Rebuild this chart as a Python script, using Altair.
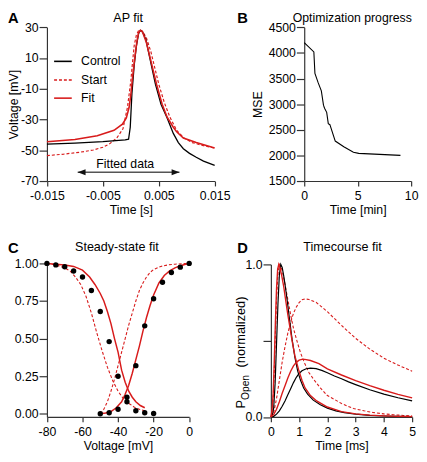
import altair as alt
import pandas as pd

FONT = "Liberation Sans"
RED = "#d81b1b"
AX = "#333333"

# ---------------- Panel A: AP fit ----------------
ctrl_t = [-0.015, -0.010, -0.005, -0.001, -0.0004, -0.0001, 0.0002, 0.0006, 0.0010, 0.0014, 0.0017,
          0.0021, 0.0027, 0.0034, 0.0044, 0.0054, 0.0065, 0.0076, 0.0085, 0.0094, 0.0105, 0.0117, 0.013, 0.015]
ctrl_v = [-46.0, -45.3, -44.4, -43.3, -42.8, -35, -13, 5, 18, 26, 28,
          27, 22, 10, -7, -20, -29, -39, -45, -49, -52, -54.5, -57, -59.8]
fit_t = [-0.015, -0.010, -0.006, -0.003, -0.0015, -0.0008, -0.0003, 0.0000, 0.0003, 0.0007, 0.0011,
         0.0014, 0.0017, 0.0021, 0.0028, 0.0036, 0.0046, 0.0056, 0.0065, 0.0076, 0.0082, 0.0094, 0.0117, 0.015]
fit_v = [-44.5, -43, -40.5, -37, -33, -29, -22, -14, -3, 10, 21,
         26.5, 28, 27, 20, 8, -7, -20, -28.5, -35, -38, -42, -45, -48.5]
start_t = [-0.015, -0.012, -0.009, -0.0067, -0.005, -0.0038, -0.0025, -0.0014, -0.0006, 0.0000, 0.0003,
           0.0006, 0.0010, 0.0014, 0.0017, 0.0021, 0.0028, 0.0036, 0.0044, 0.005, 0.006, 0.0070, 0.0082,
           0.0095, 0.011, 0.013, 0.015]
start_v = [-53.5, -52.5, -51.2, -49.8, -48, -45.8, -42, -36, -22, -5, 7,
           18, 25, 28, 28.3, 27.5, 23, 14, 2, -7, -19, -28.5, -37,
           -42, -45, -47, -48.5]
arrow_t = [-0.0095, 0.0087]
arrow_v = [-64.3, -64.3]
legend_names = ["Control", "Start", "Fit"]

# ---------------- Panel B: Optimization progress ----------------
opt_time = [0, 0.9, 1.0, 1.3, 1.6, 1.8, 1.9, 2.1, 2.25, 2.4, 2.9, 3.7, 4.6, 5.1, 9.0]
opt_mse = [4200, 4020, 3600, 3420, 3260, 2980, 2920, 2840, 2620, 2600, 2280, 2170, 2060, 2040, 2000]

# ---------------- Panel C: Steady-state fit ----------------
inact_dot_v = [-80, -75, -70, -65, -60, -55, -50, -45, -40, -35, -30, -25, -20]
inact_dot_y = [1.0, 0.99, 0.978, 0.95, 0.91, 0.82, 0.68, 0.48, 0.25, 0.11, 0.02, 0.007, 0.002]
act_dot_v = [-50, -45, -40, -35, -30, -25, -20, -15, -10, -5, 0]
act_dot_y = [0.0, 0.007, 0.03, 0.08, 0.32, 0.585, 0.765, 0.875, 0.94, 0.975, 1.0]
inact_fit_v = [-80, -70, -65, -60, -56, -53, -50, -48, -46, -44, -42, -40, -38, -36, -34, -32, -30, -27.5, -25]
inact_fit_y = [1.0, 0.99, 0.98, 0.955, 0.91, 0.86, 0.8, 0.75, 0.68, 0.6, 0.5, 0.41, 0.29, 0.21, 0.15, 0.11, 0.08, 0.055, 0.04]
inact_start_v = [-80, -75, -70, -67, -64, -61, -58, -55, -52, -49, -46, -43, -40, -37, -34, -31, -28, -25]
inact_start_y = [1.0, 0.99, 0.97, 0.95, 0.91, 0.86, 0.78, 0.67, 0.54, 0.42, 0.31, 0.22, 0.15, 0.10, 0.07, 0.045, 0.03, 0.02]
act_fit_v = [-50, -47, -44, -41, -38, -36, -34, -32, -30, -28, -26, -24, -22, -20, -17, -14, -11, -8, -5, -2, 0]
act_fit_y = [0.0, 0.005, 0.015, 0.04, 0.08, 0.13, 0.19, 0.27, 0.36, 0.45, 0.55, 0.64, 0.72, 0.79, 0.87, 0.92, 0.95, 0.97, 0.985, 0.995, 1.0]
act_start_v = [-50, -48, -46, -44, -42, -40, -38, -36, -34, -32, -30, -28, -26, -24, -22, -20, -16, -12, -8, -4, 0]
act_start_y = [0.0, 0.03, 0.08, 0.15, 0.23, 0.32, 0.41, 0.5, 0.59, 0.67, 0.75, 0.82, 0.87, 0.91, 0.94, 0.96, 0.98, 0.99, 0.995, 0.998, 1.0]

# ---------------- Panel D: Timecourse fit ----------------
fast_ctrl_t = [0, 0.05, 0.1, 0.15, 0.2, 0.25, 0.3, 0.35, 0.4, 0.45, 0.5, 0.58, 0.66, 0.75, 0.85, 0.95, 1.05,
               1.16, 1.3, 1.5, 1.75, 2.0, 2.3, 2.6, 3.0, 3.5, 4.0, 4.5, 5.0]
fast_ctrl_p = [0, 0.01, 0.06, 0.22, 0.48, 0.74, 0.93, 1.0, 0.98, 0.93, 0.87, 0.76, 0.64, 0.51, 0.39, 0.3, 0.24,
               0.19, 0.15, 0.11, 0.08, 0.058, 0.04, 0.028, 0.018, 0.01, 0.006, 0.004, 0.002]
fast_fit_t = [0, 0.04, 0.08, 0.12, 0.16, 0.2, 0.24, 0.28, 0.32, 0.38, 0.45, 0.52, 0.6, 0.68, 0.75, 0.85, 0.98,
              1.1, 1.21, 1.4, 1.62, 2.0, 2.5, 3.0, 3.5, 4.0, 4.5, 5.0]
fast_fit_p = [0, 0.04, 0.15, 0.36, 0.62, 0.84, 0.97, 1.0, 0.98, 0.93, 0.86, 0.77, 0.67, 0.58, 0.5, 0.4, 0.31,
              0.24, 0.19, 0.14, 0.105, 0.065, 0.035, 0.02, 0.012, 0.007, 0.004, 0.002]
fast_start_t = [0, 0.04, 0.08, 0.12, 0.16, 0.2, 0.25, 0.3, 0.34, 0.4, 0.5, 0.6, 0.7, 0.8, 0.92, 1.05, 1.2, 1.35,
                1.5, 1.75, 2.0, 2.22, 2.5, 2.92, 3.3, 3.6, 4.0, 4.3, 4.7, 5.0]
fast_start_p = [0, 0.03, 0.12, 0.3, 0.55, 0.77, 0.94, 1.0, 0.99, 0.96, 0.87, 0.77, 0.67, 0.58, 0.5, 0.42, 0.35, 0.29,
                0.25, 0.19, 0.14, 0.118, 0.088, 0.055, 0.04, 0.03, 0.02, 0.015, 0.01, 0.007]
slow_ctrl_t = [0, 0.1, 0.2, 0.3, 0.4, 0.5, 0.6, 0.7, 0.8, 0.9, 1.0, 1.1, 1.25, 1.4, 1.6, 1.8, 2.0, 2.25, 2.5,
               2.75, 3.0, 3.5, 4.0, 4.5, 5.0]
slow_ctrl_p = [0, 0.004, 0.018, 0.04, 0.07, 0.105, 0.145, 0.185, 0.225, 0.26, 0.285, 0.303, 0.316, 0.32, 0.317,
               0.305, 0.29, 0.268, 0.25, 0.23, 0.212, 0.178, 0.15, 0.126, 0.105]
slow_fit_t = [0, 0.1, 0.2, 0.3, 0.4, 0.5, 0.6, 0.7, 0.8, 0.9, 1.0, 1.1, 1.2, 1.4, 1.7, 2.0, 2.5, 3.0, 3.5, 4.0, 4.5, 5.0]
slow_fit_p = [0, 0.015, 0.05, 0.1, 0.155, 0.205, 0.255, 0.3, 0.335, 0.358, 0.372, 0.377, 0.377, 0.37, 0.35,
              0.315, 0.275, 0.238, 0.205, 0.175, 0.148, 0.125]
slow_start_t = [0, 0.1, 0.2, 0.3, 0.4, 0.5, 0.6, 0.7, 0.8, 0.9, 1.0, 1.1, 1.2, 1.35, 1.6, 2.0, 2.5, 3.0, 3.5,
                4.0, 4.5, 5.0]
slow_start_p = [0, 0.03, 0.12, 0.24, 0.36, 0.46, 0.55, 0.62, 0.68, 0.72, 0.75, 0.768, 0.774, 0.77, 0.752, 0.69,
                0.6, 0.515, 0.445, 0.385, 0.34, 0.3]

TITLES = ["AP fit", "Optimization progress", "Steady-state fit", "Timecourse fit"]
LETTERS = ["A", "B", "C", "D"]
D_YLABEL = ["P", "Open", "(normalized)"]

# ---------------- layout (pixels in the plot area) ----------------
W, H = 419, 452
NEG = "(datum.value < 0 ? '-' : '') + format(abs(datum.value), '{f}')"


def xaxis(values, title, ypos, fmt, tpad=2):
    return alt.Axis(orient="bottom", offset=ypos - H, values=values, title=title, tickSize=5,
                    labelPadding=4, titlePadding=tpad, labelExpr=NEG.format(f=fmt))


def yaxis(values, title, xpos, expr, tpad=0):
    return alt.Axis(orient="left", offset=-xpos, values=values, tickSize=8, labelPadding=1,
                    titlePadding=tpad, labelExpr=expr, title=title)


def panel_enc(xdom, xrng, ydom, yrng, xax, yax):
    return dict(
        x=alt.X("x:Q", scale=alt.Scale(domain=xdom, range=xrng, nice=False, zero=False), axis=xax),
        y=alt.Y("y:Q", scale=alt.Scale(domain=ydom, range=yrng, nice=False, zero=False), axis=yax),
    )


def df(xs, ys):
    return pd.DataFrame({"x": xs, "y": ys})


def line(xs, ys, enc, color, width, dash=None):
    kw = dict(color=color, strokeWidth=width, interpolate="linear")
    if dash:
        kw["strokeDash"] = dash
    return alt.Chart(df(xs, ys)).mark_line(**kw).encode(**enc)


ONE = alt.Data(values=[{}])


def text(t, x, y, size, weight="normal", align="center", angle=0, baseline="alphabetic"):
    return alt.Chart(ONE).mark_text(text=t, font=FONT, fontSize=size, fontWeight=weight, align=align,
                                    baseline=baseline, angle=angle, color="#000").encode(
        x=alt.value(x), y=alt.value(y))


def hrule(x1, x2, y, color, width, dash=None):
    kw = dict(color=color, strokeWidth=width)
    if dash:
        kw["strokeDash"] = dash
    return alt.Chart(ONE).mark_rule(**kw).encode(x=alt.value(x1), x2=alt.value(x2), y=alt.value(y))


# ---- Panel A ----
encA = panel_enc([-0.015, 0.015], [39.7, 210.7], [-70, 30], [172, 15.3],
                 xaxis([-0.015, -0.005, 0.005, 0.015], "Time [s]", 172, ".3f"),
                 yaxis([-70, -50, -30, -10, 10, 30], "Voltage [mV]", 39.7, NEG.format(f="d")))
LEFT_HEAD = "M0,0 L2,-0.75 L2,0.75 Z"
RIGHT_HEAD = "M0,0 L-2,-0.75 L-2,0.75 Z"
panelA = alt.layer(
    line(arrow_t, arrow_v, encA, "#555555", 1.5),
    alt.Chart(df(arrow_t[:1], arrow_v[:1])).mark_point(shape=LEFT_HEAD, filled=True, size=64, color="#111",
                                                       opacity=1, strokeWidth=0).encode(**encA),
    alt.Chart(df(arrow_t[1:], arrow_v[1:])).mark_point(shape=RIGHT_HEAD, filled=True, size=64, color="#111",
                                                       opacity=1, strokeWidth=0).encode(**encA),
    alt.Chart(df([-0.001], [-61.4])).mark_text(text="Fitted data", font=FONT, fontSize=12.5,
                                                baseline="alphabetic", color="#000").encode(**encA),
    line(start_t, start_v, encA, RED, 1.2, [3, 2]),
    line(ctrl_t, ctrl_v, encA, "#000000", 1.3),
    line(fit_t, fit_v, encA, RED, 1.6),
)
legendA = alt.layer(
    hrule(47, 65, 50, "#000000", 1.6),
    hrule(47, 65, 69, RED, 1.3, [3, 2]),
    hrule(47, 65, 87.5, RED, 1.6),
    text(legend_names[0], 74.5, 50, 12.5, align="left", baseline="middle"),
    text(legend_names[1], 74.5, 69, 12.5, align="left", baseline="middle"),
    text(legend_names[2], 74.5, 87.5, 12.5, align="left", baseline="middle"),
)

# ---- Panel B ----
encB = panel_enc([0, 10], [302, 411], [1500, 4500], [172, 15.3],
                 xaxis([0, 5, 10], "Time [min]", 172, "d"),
                 yaxis(list(range(1500, 4501, 500)), "MSE", 302, "format(datum.value, 'd')", tpad=4))
panelB = alt.layer(line(opt_time, opt_mse, encB, "#000000", 1.1))

# ---- Panel C ----
encC = panel_enc([-80, 0], [39.7, 184.7], [-0.021, 1.0], [412.5, 256],
                 xaxis([-80, -60, -40, -20, 0], "Voltage [mV]", 412.5, "d"),
                 yaxis([0, 0.25, 0.5, 0.75, 1.0], None, 39.7, "format(datum.value, '.2f')"))
panelC = alt.layer(
    line(inact_start_v, inact_start_y, encC, RED, 1.1, [3, 2]),
    line(act_start_v, act_start_y, encC, RED, 1.1, [3, 2]),
    line(inact_fit_v, inact_fit_y, encC, RED, 1.5),
    line(act_fit_v, act_fit_y, encC, RED, 1.5),
    alt.Chart(df(inact_dot_v, inact_dot_y)).mark_circle(size=30, color="#000", opacity=1).encode(**encC),
    alt.Chart(df(act_dot_v, act_dot_y)).mark_circle(size=30, color="#000", opacity=1).encode(**encC),
)

# ---- Panel D ----
encD = panel_enc([0, 5], [268, 412], [0, 1.0], [412.5, 257],
                 xaxis([0, 1, 2, 3, 4, 5], "Time [ms]", 412.5, "d"),
                 yaxis([0, 0.5, 1.0], None, 268, "datum.value == 0.5 ? '' : format(datum.value, '.1f')"))
panelD = alt.layer(
    line(slow_start_t, slow_start_p, encD, RED, 1.1, [3, 2]),
    line(fast_start_t, fast_start_p, encD, RED, 1.1, [3, 2]),
    line(slow_ctrl_t, slow_ctrl_p, encD, "#000000", 1.2),
    line(fast_ctrl_t, fast_ctrl_p, encD, "#000000", 1.2),
    line(slow_fit_t, slow_fit_p, encD, RED, 1.4),
    line(fast_fit_t, fast_fit_p, encD, RED, 1.4),
)
ylabD = alt.layer(
    text(D_YLABEL[0], 242, 404, 13, align="left", angle=270),
    text(D_YLABEL[1], 245.5, 395.3, 10.5, align="left", angle=270),
    text(D_YLABEL[2], 242, 362, 13, align="left", angle=270),
)

labels = alt.layer(
    text(LETTERS[0], 0, 11, 15, weight="bold", align="left"),
    text(TITLES[0], 122.5, 10, 12.8),
    text(LETTERS[1], 233.7, 11, 15, weight="bold", align="left"),
    text(TITLES[1], 351, 10, 12.5),
    text(LETTERS[2], 0, 245, 15, weight="bold", align="left"),
    text(TITLES[2], 111, 243, 12.8),
    text(LETTERS[3], 233.7, 245, 15, weight="bold", align="left"),
    text(TITLES[3], 341, 243.5, 12.8),
)

chart = alt.layer(panelA, panelB, panelC, panelD, legendA, ylabD, labels).resolve_scale(
    x="independent", y="independent"
).properties(
    width=W, height=H, padding=0, autosize=alt.AutoSizeParams(type="none")
).configure_view(
    strokeOpacity=0
).configure_axis(
    grid=False, labelFont=FONT, labelFontSize=12.5, labelColor="#000", titleFont=FONT,
    titleFontSize=12.5, titleFontWeight="normal", titleColor="#000", domainColor=AX, tickColor=AX,
    domainWidth=1.2, tickWidth=1.2, labelFlush=False, labelOverlap=False
)

chart.save("out.html", embed_options={"renderer": "svg", "actions": False})
